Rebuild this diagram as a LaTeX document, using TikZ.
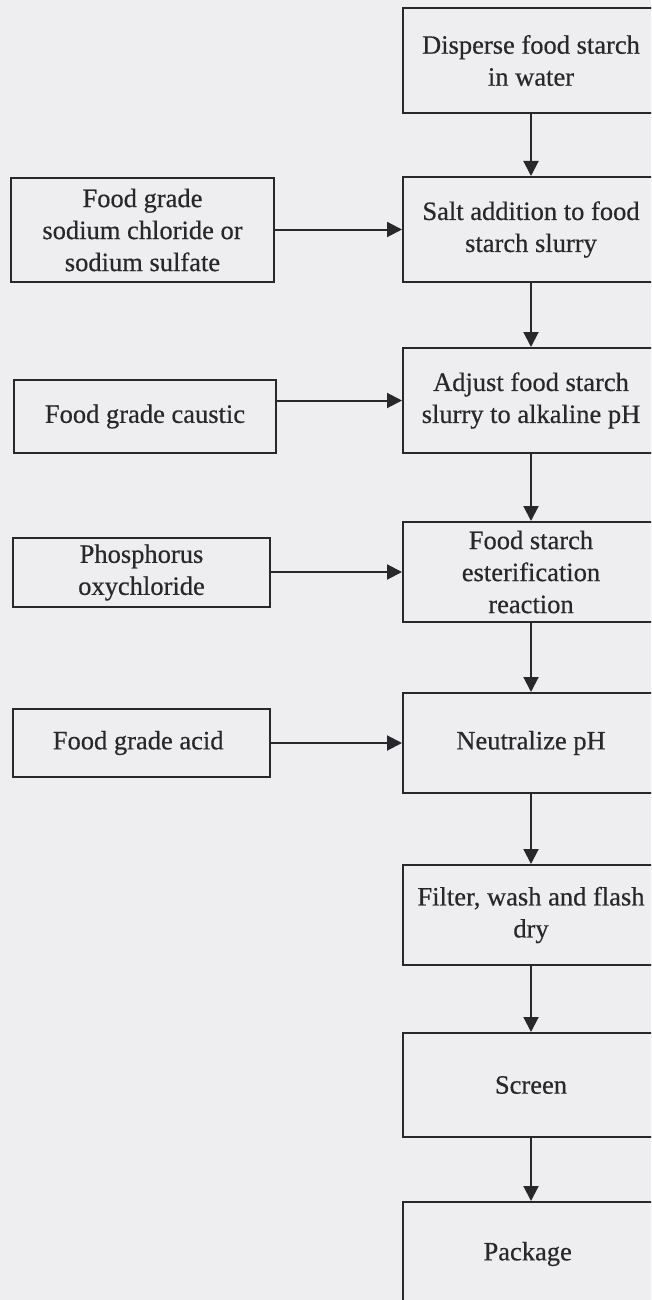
\documentclass[tikz,border=0pt]{standalone}
\usepackage{fontspec}
\setmainfont{Liberation Serif}
\newfontfamily\boxfont{Liberation Serif}[FakeBold=0.5]
\usepackage{tikz}
\usetikzlibrary{arrows.meta}
\usetikzlibrary{positioning}
\definecolor{paper}{RGB}{238,238,241}
\definecolor{ink}{RGB}{40,40,44}
\tikzstyle{stepbox}=[rectangle,draw=ink,fill=paper,line width=2pt,align=center,inner sep=0pt,text=ink,font=\boxfont\fontsize{26.5}{32}\selectfont]
\tikzstyle{edge} = [draw=ink,line width=2pt,-{Triangle[length=15pt,width=15pt]}]

\begin{document}
\begin{tikzpicture}[x=1pt,y=-1pt]

    \useasboundingbox (0,0) rectangle (651,1300);
    \fill[paper] (0,0) rectangle (651,1300);
    \clip (0,0) rectangle (651,1300);

    % process steps
    \foreach \name/\y/\h/\txt in { disperse/60.5/105/{Disperse food starch\\in water},
                                   salt/229.5/105/{Salt addition to food\\starch slurry},
                                   adjust/400.5/105/{Adjust food starch\\slurry to alkaline pH},
                                   ester/572/100/{Food starch\\esterification\\reaction},
                                   neutral/743/100/{Neutralize pH},
                                   filter/915/100/{Filter, wash and flash\\dry},
                                   screen/1085/104/{Screen},
                                   package/1254/104/{Package} }
        \node[stepbox, minimum width=256pt, minimum height=\h pt] (\name) at (531,\y) {\txt};

    % additives
    \foreach \name/\x/\y/\w/\h/\txt in { chloride/142.5/230/263/104/{Food grade\\sodium chloride or\\sodium sulfate},
                                         caustic/145/416.5/262/73/{Food grade caustic},
                                         phosphorus/141.5/572.5/257/69/{Phosphorus\\oxychloride},
                                         acid/141.5/743/257/68/{Food grade acid} }
        \node[stepbox, minimum width=\w pt, minimum height=\h pt] (\name) at (\x,\y) {\txt};

    \foreach \source/\dest in {disperse/salt, salt/adjust, adjust/ester, ester/neutral, neutral/filter, filter/screen, screen/package}
            \path[edge] (\source) -- (\dest);

    \foreach \source/\dest in {chloride/salt, caustic/adjust, phosphorus/ester, acid/neutral}
            \path[edge] (\source.east |- \dest.west) -- (\dest.west);

\end{tikzpicture}
\end{document}
